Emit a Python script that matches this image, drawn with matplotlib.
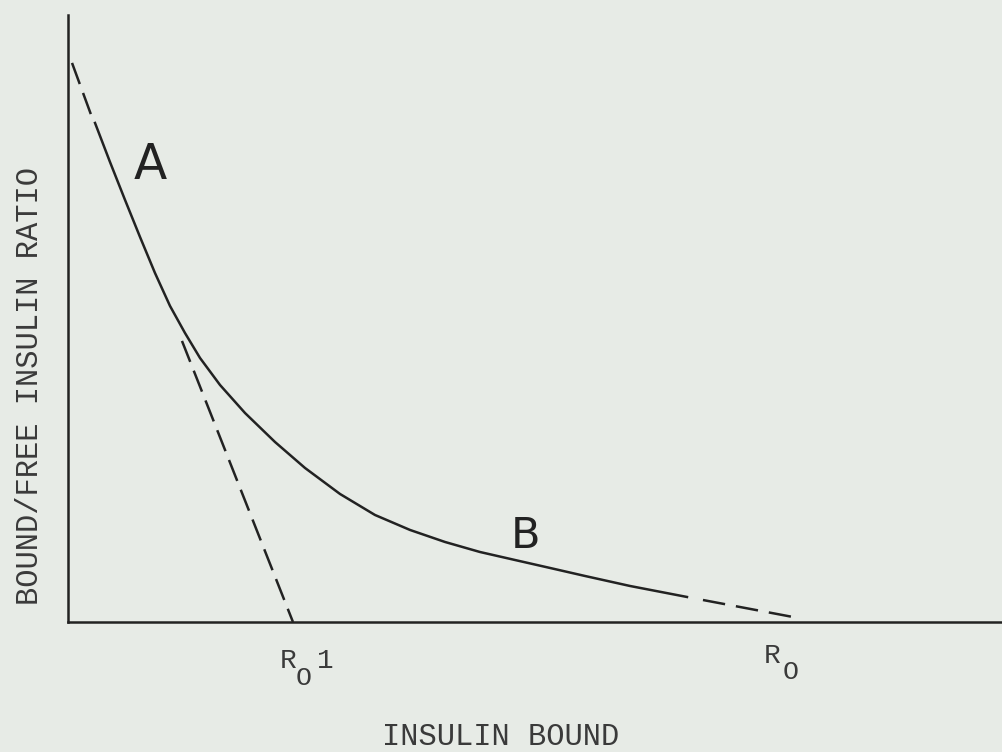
"""Scatchard plot of insulin binding: curvilinear plot with two limiting slopes.

Renders out.png (about 1003x752). The curve, its dashed extrapolations and the
tangent to the high-affinity limb are read off the scanned figure.
"""
import matplotlib
matplotlib.use("Agg")

import matplotlib.pyplot as plt

_INK = "#222222"
_TYPE = "#3a3a3a"
_PAPER = "#e7ebe6"
_MONO = ["Liberation Mono", "DejaVu Sans Mono"]

# Bound/free ratio against insulin bound, arbitrary units (axes run 0-10).
curve_x = [0.289, 0.449, 0.610, 0.770, 0.930, 1.091, 1.251, 1.412, 1.626, 1.893,
           2.214, 2.535, 2.909, 3.283, 3.658, 4.032, 4.406, 4.781, 5.155, 5.529,
           6.011, 6.620]
curve_y = [8.221, 7.578, 6.952, 6.343, 5.750, 5.206, 4.761, 4.349, 3.904, 3.443,
           2.965, 2.537, 2.109, 1.763, 1.516, 1.318, 1.153, 1.021, 0.890, 0.758,
           0.593, 0.412]
# Dashed extrapolation of limb A back to the ordinate.
extrap_a_x = [0.043, 0.267]
extrap_a_y = [9.21, 8.27]
# Dashed extrapolation of limb B onto the abscissa (R0).
extrap_b_x = [6.791, 7.754]
extrap_b_y = [0.362, 0.082]
# Tangent to the high-affinity limb, meeting the abscissa at R0 1.
tangent_x = [1.219, 2.406]
tangent_y = [4.63, 0.0]


def scatchard():
    fig = plt.figure(figsize=(10.03, 7.52), dpi=100, facecolor=_PAPER)
    ax = fig.add_axes([0.0678, 0.1729, 0.9322, 0.8072])
    ax.set_facecolor(_PAPER)
    ax.set_xlim(0, 10)
    ax.set_ylim(0, 10)

    ax.plot(curve_x, curve_y, color=_INK, lw=1.8, solid_joinstyle="round")
    for xs, ys, gap in ((extrap_a_x, extrap_a_y, 3.8), (extrap_b_x, extrap_b_y, 4.4),
                        (tangent_x, tangent_y, 3.8)):
        ax.plot(xs, ys, color=_INK, lw=1.8, linestyle=(0, (9.0, gap)),
                dash_capstyle="butt", clip_on=False)

    ax.text(0.877, 7.53, "A", ha="center", va="center", fontsize=35,
            family="DejaVu Sans", color=_INK)
    ax.text(4.89, 1.42, "B", ha="center", va="center", fontsize=31,
            family="DejaVu Sans", color=_INK)

    ax.set_xticks([])
    ax.set_yticks([])
    for side in ("top", "right"):
        ax.spines[side].set_visible(False)
    for side in ("left", "bottom"):
        ax.spines[side].set_color(_INK)
        ax.spines[side].set_linewidth(1.8)

    # typed labels, placed in figure pixels as on the scan
    def typed(px, py, s, size=22, **kw):
        fig.text(px / 1003, 1 - py / 752, s, ha="center", va="center",
                 fontsize=size, family=_MONO, color=_TYPE, **kw)

    typed(501, 737, "INSULIN BOUND")
    typed(30, 386, "BOUND/FREE INSULIN RATIO", rotation=90)
    typed(288, 661, "R", size=20)
    typed(304, 678, "O", size=19)
    typed(325, 661, "1", size=20)
    typed(772, 656, "R", size=20)
    typed(791, 672, "O", size=19)
    return fig


if __name__ == "__main__":
    fig = scatchard()
    fig.savefig("out.png", dpi=100, facecolor=_PAPER)
